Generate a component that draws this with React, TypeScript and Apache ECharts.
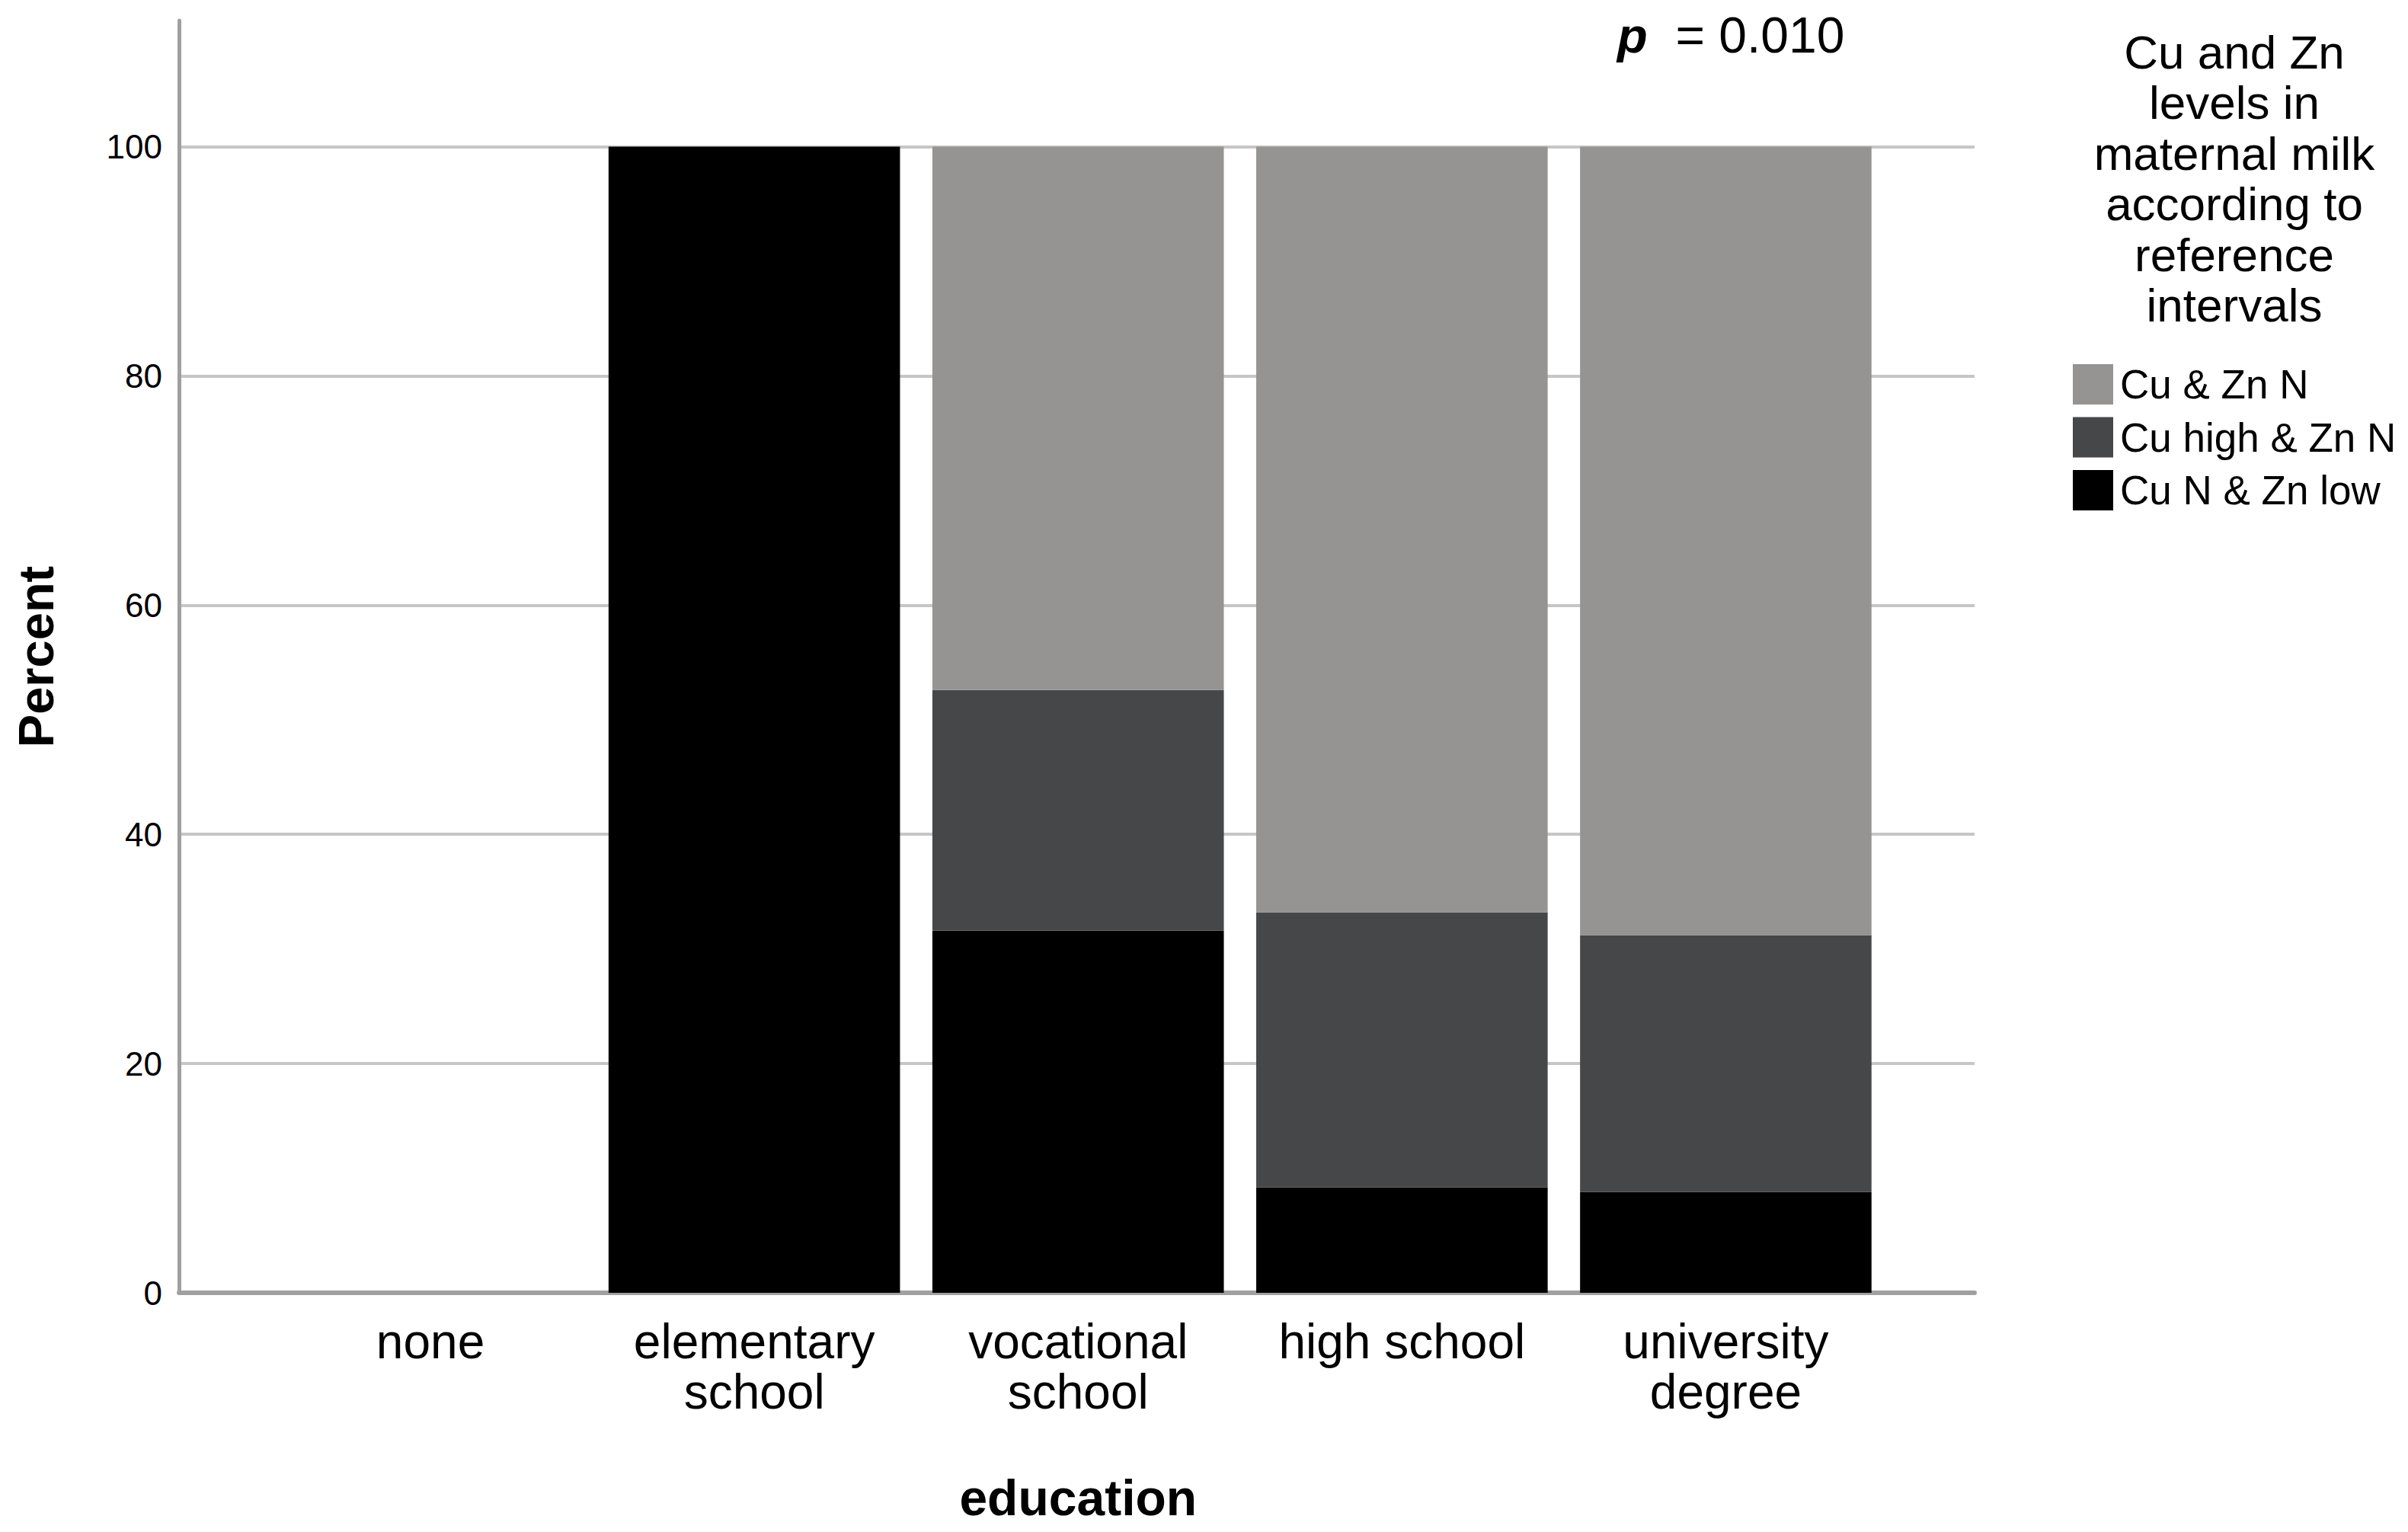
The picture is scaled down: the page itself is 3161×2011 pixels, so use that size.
import React, { useEffect, useRef } from 'react';
import * as echarts from 'echarts';

const categories = ['none', 'elementary\nschool', 'vocational\nschool', 'high school', 'university\ndegree'];
const cuNZnLow = [0, 100, 31.6, 9.2, 8.8];
const cuHighZnN = [0, 0, 21.0, 24.0, 22.4];
const cuZnN = [0, 0, 47.4, 66.8, 68.8];
const seriesNames = ['Cu & Zn N', 'Cu high & Zn N', 'Cu N & Zn low'];
const seriesColors = ['#969492', '#464749', '#000000'];
const yTickStep = 20;
const yMin = 0;
const yMax = 111;
const legendTitle = ['Cu and Zn', 'levels in', 'maternal milk', 'according to', 'reference', 'intervals'];
const pLabel = 'p';
const pValue = '  = 0.010';
const xTitle = 'education';
const yTitle = 'Percent';

const FONT = '"Liberation Sans", Arial, Helvetica, sans-serif';

export default function App() {
  const ref = useRef<HTMLDivElement>(null);
  useEffect(() => {
    document.body.style.margin = '0';
    if (!ref.current) return;
    const chart = echarts.init(ref.current, undefined, { renderer: 'svg' });
    const gridTop = 27;
    const gridHeight = 1670;
    const option: any = {
      animation: false,
      backgroundColor: '#ffffff',
      textStyle: { fontFamily: FONT },
      grid: [
        { left: 235, top: gridTop, width: 2357, height: gridHeight, outerBoundsMode: 'none' },
        { left: 352.5, top: gridTop, width: 2125.5, height: gridHeight, outerBoundsMode: 'none' },
      ],
      xAxis: [
        {
          gridIndex: 0,
          type: 'value',
          min: 0,
          max: 1,
          axisLabel: { show: false },
          axisTick: { show: false },
          splitLine: { show: false },
          axisLine: { show: true, lineStyle: { color: '#a0a0a0', width: 6 } },
        },
        {
          gridIndex: 1,
          type: 'category',
          data: categories,
          axisLine: { show: false },
          axisTick: { show: false },
          splitLine: { show: false },
          axisLabel: {
            interval: 0,
            fontSize: 64,
            lineHeight: 66,
            margin: 31,
            color: '#000000',
            fontFamily: FONT,
          },
          name: xTitle,
          nameLocation: 'middle',
          nameGap: 236,
          nameTextStyle: { fontSize: 66, fontWeight: 'bold', color: '#000000', fontFamily: FONT },
        },
      ],
      yAxis: [
        {
          gridIndex: 0,
          type: 'value',
          min: yMin,
          max: yMax,
          interval: yTickStep,
          axisLine: { show: true, lineStyle: { color: '#a0a0a0', width: 5 } },
          axisTick: { show: false },
          axisLabel: {
            fontSize: 44,
            color: '#000000',
            margin: 22,
            fontFamily: FONT,
            formatter: (v: number) => (v % yTickStep === 0 ? String(v) : ''),
          },
          splitLine: { show: true, showMaxLine: false, lineStyle: { color: '#c6c6c6', width: 4 } },
          name: yTitle,
          nameLocation: 'middle',
          nameGap: 155,
          nameTextStyle: { fontSize: 65, fontWeight: 'bold', color: '#000000', fontFamily: FONT },
        },
        {
          gridIndex: 1,
          type: 'value',
          min: yMin,
          max: yMax,
          show: false,
        },
      ],
      legend: {
        orient: 'vertical',
        left: 2716,
        top: 473,
        itemWidth: 53,
        itemHeight: 53,
        itemGap: 16.5,
        icon: 'rect',
        selectedMode: false,
        data: seriesNames,
        textStyle: {
          fontSize: 53,
          lineHeight: 53,
          color: '#000000',
          fontFamily: FONT,
          padding: [0, 0, 0, 4],
        },
      },
      graphic: [
        {
          type: 'text',
          x: 2933,
          y: 35,
          style: {
            text: legendTitle.join('\n'),
            font: `62px ${FONT}`,
            fontSize: 62,
            fontFamily: FONT,
            lineHeight: 66.5,
            textAlign: 'center',
            textVerticalAlign: 'top',
            verticalAlign: 'top',
            fill: '#000000',
          },
        },
        {
          type: 'text',
          x: 2123,
          y: 13,
          style: {
            text: `{p|${pLabel}}{v|${pValue}}`,
            rich: {
              p: { fontSize: 65, fontWeight: 'bold', fontStyle: 'italic', fontFamily: FONT, fill: '#000000' },
              v: { fontSize: 66, fontFamily: FONT, fill: '#000000' },
            },
            textAlign: 'left',
            verticalAlign: 'top',
            fill: '#000000',
          },
        },
      ],
      series: [
        {
          name: seriesNames[2],
          type: 'bar',
          xAxisIndex: 1,
          yAxisIndex: 1,
          stack: 'total',
          barCategoryGap: '10%',
          itemStyle: { color: seriesColors[2] },
          data: cuNZnLow,
        },
        {
          name: seriesNames[1],
          type: 'bar',
          xAxisIndex: 1,
          yAxisIndex: 1,
          stack: 'total',
          barCategoryGap: '10%',
          itemStyle: { color: seriesColors[1] },
          data: cuHighZnN,
        },
        {
          name: seriesNames[0],
          type: 'bar',
          xAxisIndex: 1,
          yAxisIndex: 1,
          stack: 'total',
          barCategoryGap: '10%',
          itemStyle: { color: seriesColors[0] },
          data: cuZnN,
        },
      ],
    };
    chart.setOption(option);
    return () => chart.dispose();
  }, []);
  return <div ref={ref} style={{ width: 3161, height: 2011 }} />;
}
